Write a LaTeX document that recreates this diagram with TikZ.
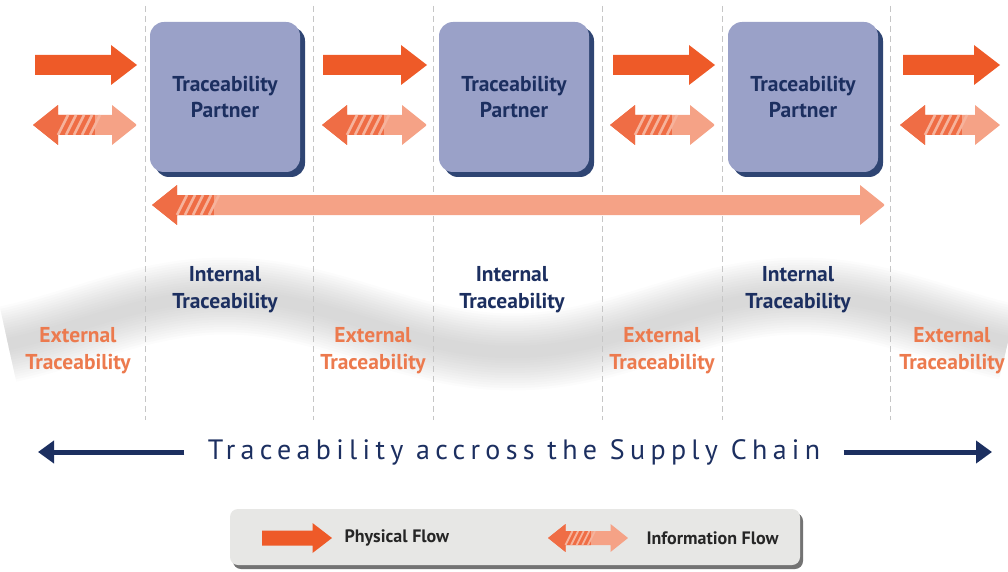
\documentclass[tikz,border=0pt]{standalone}
\usepackage{fontspec}
\setmainfont{PT Sans}
\newfontfamily\titlefont[LetterSpace=19]{PT Sans}
\usetikzlibrary{arrows.meta,shadows}

\definecolor{physorange}{HTML}{EE5A28}
\definecolor{infodark}{HTML}{EF6D45}
\definecolor{infolight}{HTML}{F5A286}
\definecolor{stripecol}{HTML}{F6B39C}
\definecolor{partnerfill}{HTML}{9AA1C8}
\definecolor{partnershadow}{HTML}{2F4573}
\definecolor{navy}{HTML}{1C2F60}
\definecolor{extorange}{HTML}{EC7A4E}
\definecolor{legendfill}{HTML}{E7E7E5}

% solid arrow: left x, right x, centre y, half head height
\newcommand\physflow[4]{%
  \fill[physorange] (#1,#3-#4/2) -- (#2-1.3*#4,#3-#4/2) -- (#2-1.3*#4,#3-#4) -- (#2,#3)
    -- (#2-1.3*#4,#3+#4) -- (#2-1.3*#4,#3+#4/2) -- (#1,#3+#4/2) -- cycle;}

% double arrow, dark striped on the left
\newcommand\infoflow[4]{%
  \begin{scope}
    \clip (#1,#3) -- (#1+1.25*#4,#3-#4) -- (#1+1.25*#4,#3-#4/2) -- (#2-1.25*#4,#3-#4/2)
      -- (#2-1.25*#4,#3-#4) -- (#2,#3) -- (#2-1.25*#4,#3+#4) -- (#2-1.25*#4,#3+#4/2)
      -- (#1+1.25*#4,#3+#4/2) -- (#1+1.25*#4,#3+#4) -- cycle;
    \fill[infolight] (#1,#3-#4) rectangle (#2,#3+#4);
    \fill[infodark] (#1,#3-#4) rectangle (#1+3.1*#4,#3+#4);
    \foreach \s in {0,...,4}
      {\draw[stripecol, line width=0.13*#4] (#1+1.25*#4+\s*0.4*#4,#3+#4/2) -- ++(0.5*#4,-#4);}
  \end{scope}}

\tikzset{
  partner/.style={rectangle, rounded corners=14pt, fill=partnerfill,
    minimum width=150pt, minimum height=150pt, align=center, text=navy,
    font=\bfseries\fontsize{21.5}{26}\selectfont,
    general shadow={fill=partnershadow, shadow xshift=5pt, shadow yshift=-5pt}},
  internal/.style={align=center, text=navy, font=\bfseries\fontsize{21.5}{27}\selectfont},
  external/.style={align=center, text=extorange, font=\bfseries\fontsize{21.5}{27}\selectfont},
  separator/.style={gray!45, line width=0.8pt, dash pattern=on 6pt off 4pt},
  chainarrow/.style={navy, line width=5pt, -{Triangle[length=16pt,width=22pt]}},
  legendbox/.style={rectangle, rounded corners=8pt, fill=legendfill,
    minimum width=570pt, minimum height=56pt,
    general shadow={fill=black!55, shadow xshift=3pt, shadow yshift=-4pt}},
  legendlabel/.style={anchor=west, text=black!85, font=\bfseries\fontsize{18}{20}\selectfont}
}

\begin{document}
\begin{tikzpicture}[x=1pt, y=-1pt]
\useasboundingbox (0,0) rectangle (1008,572);

% wave band
\foreach \i in {1,...,14}
  \draw[black!35, line width=82pt-5pt*\i, opacity=0.04]
    plot[domain=8:1008, samples=120, smooth] (\x, {324-28*cos((\x-225)/287.5*180)});

% column separators
\foreach \x in {145,313,433,602,722,890}
  \draw[separator] (\x,6) -- (\x,420);

% partners
\foreach \x [count=\i] in {225,514,803}
  \node[partner] (partner\i) at (\x,97) {Traceability\\Partner};

% flows between partners
\foreach \a/\b in {35/137, 323/427, 613/715, 903/1000}
  {\physflow{\a}{\b}{65}{20}}
\foreach \a/\b in {33/137, 322/427, 610/715, 900/1000}
  {\infoflow{\a}{\b}{125}{20}}
\infoflow{152}{885}{205}{20}

% traceability labels
\foreach \x [count=\i] in {225,512,798}
  \node[internal] (int\i) at (\x,290) {Internal\\Traceability};
\foreach \x [count=\i] in {78,373,662,952}
  \node[external] (ext\i) at (\x,351) {External\\Traceability};

% supply chain
\node[text=navy, font=\titlefont\fontsize{28}{32}\selectfont] (title) at (514,452)
  {Traceability accross the Supply Chain};
\coordinate (chainleft) at (38,452);
\coordinate (chainright) at (992,452);
\draw[chainarrow, shorten <=20pt] (title.west) -- (chainleft);
\draw[chainarrow, shorten <=20pt] (title.east) -- (chainright);

% legend
\node[legendbox] (legend) at (515,537) {};
\physflow{262}{332}{538}{15}
\node[legendlabel] (physlabel) at (341,538) {Physical Flow};
\infoflow{548}{628}{538}{14}
\node[legendlabel] (infolabel) at (643,538) {Information Flow};
\end{tikzpicture}
\end{document}
